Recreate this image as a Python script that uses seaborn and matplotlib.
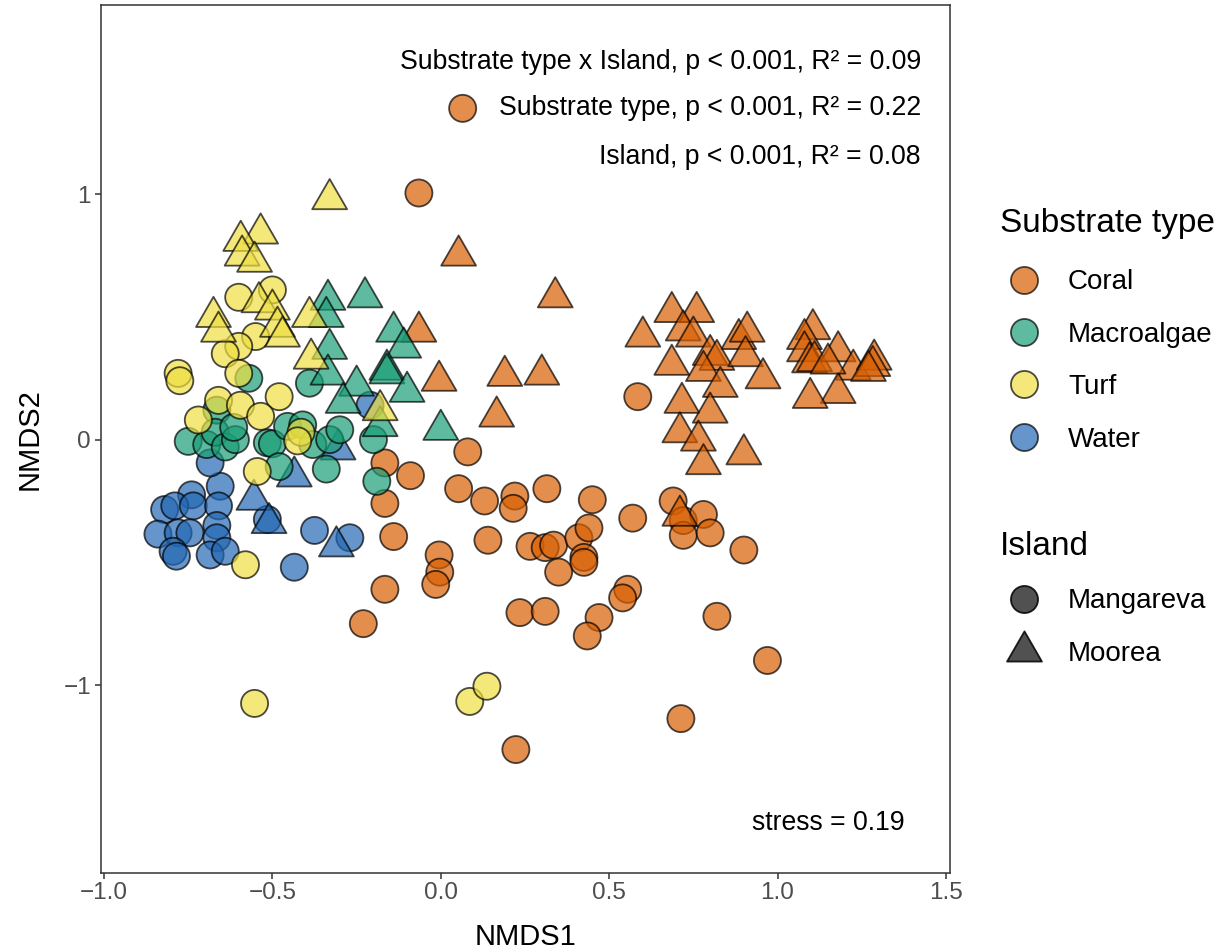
import numpy as np
import pandas as pd
import matplotlib
matplotlib.use("Agg")
import matplotlib.pyplot as plt
from matplotlib.path import Path
from matplotlib.lines import Line2D
import seaborn as sns

# ---- NMDS ordination scores, by substrate type and island ----
coral_mangareva_x = [-0.065, 0.065, 0.585, 0.08, -0.166, -0.09, -0.166, 0.053, 0.13, 0.22,
                     0.215, 0.315, 0.45, 0.57, 0.69, 0.72, 0.72, 0.78, 0.80, 0.90,
                     -0.14, -0.005, -0.003, -0.015, 0.14, 0.265, 0.31, 0.335, 0.41, 0.44,
                     0.425, 0.425, 0.35, -0.166, 0.235, 0.31, 0.47, 0.555, 0.54, 0.435,
                     0.82, 0.97, -0.23, 0.223, 0.713]
coral_mangareva_y = [1.005, 1.35, 0.175, -0.05, -0.095, -0.147, -0.26, -0.20, -0.25, -0.23,
                     -0.28, -0.20, -0.245, -0.32, -0.25, -0.33, -0.39, -0.305, -0.38, -0.45,
                     -0.395, -0.47, -0.54, -0.59, -0.41, -0.435, -0.44, -0.43, -0.40, -0.36,
                     -0.48, -0.50, -0.54, -0.61, -0.705, -0.70, -0.725, -0.61, -0.645, -0.80,
                     -0.72, -0.90, -0.75, -1.263, -1.137]

coral_moorea_x = [0.053, 0.34, -0.065, -0.005, 0.19, 0.30, 0.166, 0.686, 0.76, 0.60,
                  0.72, 0.75, 0.885, 0.91, 0.80, 0.82, 0.905, 0.686, 0.78, 0.957,
                  0.83, 0.716, 0.80, 0.71, 0.765, 0.78, 0.90, 1.105, 1.08, 1.08,
                  1.095, 1.11, 1.18, 1.225, 1.287, 1.283, 1.18, 1.097, 1.15, 1.27, 0.71]
coral_moorea_y = [0.75, 0.58, 0.44, 0.24, 0.26, 0.265, 0.094, 0.52, 0.52, 0.42,
                  0.445, 0.42, 0.41, 0.44, 0.345, 0.325, 0.34, 0.305, 0.28, 0.25,
                  0.215, 0.15, 0.11, 0.03, -0.004, -0.10, -0.06, 0.45, 0.41, 0.36,
                  0.315, 0.32, 0.36, 0.285, 0.326, 0.30, 0.19, 0.17, 0.31, 0.28, -0.31]

macro_mangareva_x = [-0.57, -0.39, -0.665, -0.75, -0.695, -0.67, -0.64, -0.61, -0.615, -0.515,
                     -0.50, -0.455, -0.41, -0.38, -0.33, -0.30, -0.48, -0.34, -0.20, -0.19]
macro_mangareva_y = [0.25, 0.23, 0.12, -0.007, -0.02, 0.03, -0.03, 0.0, 0.05, -0.013,
                     -0.017, 0.054, 0.06, -0.02, 0.0, 0.04, -0.11, -0.12, 0.0, -0.17]

macro_moorea_x = [-0.335, -0.34, -0.225, -0.14, -0.11, -0.33, -0.335, -0.16, -0.16, -0.25,
                  -0.10, -0.29, -0.18, 0.0]
macro_moorea_y = [0.57, 0.50, 0.58, 0.44, 0.375, 0.37, 0.265, 0.285, 0.27, 0.22,
                  0.195, 0.15, 0.055, 0.04]

turf_mangareva_x = [-0.60, -0.50, -0.55, -0.60, -0.64, -0.60, -0.78, -0.775, -0.48, -0.66,
                    -0.595, -0.535, -0.72, -0.415, -0.425, -0.545, -0.58, -0.553, 0.086, 0.137]
turf_mangareva_y = [0.58, 0.61, 0.42, 0.38, 0.35, 0.27, 0.27, 0.24, 0.175, 0.16,
                    0.14, 0.095, 0.08, 0.03, -0.005, -0.13, -0.51, -1.075, -1.067, -1.005]

turf_moorea_x = [-0.33, -0.535, -0.594, -0.59, -0.553, -0.675, -0.66, -0.54, -0.50, -0.485,
                 -0.47, -0.39, -0.385, -0.18]
turf_moorea_y = [0.98, 0.84, 0.81, 0.75, 0.725, 0.50, 0.44, 0.56, 0.53, 0.46,
                 0.42, 0.50, 0.33, 0.12]

water_mangareva_x = [-0.21, -0.655, -0.74, -0.82, -0.79, -0.735, -0.66, -0.84, -0.78, -0.745,
                     -0.665, -0.665, -0.795, -0.785, -0.685, -0.64, -0.685, -0.515, -0.375, -0.27,
                     -0.435]
water_mangareva_y = [0.14, -0.19, -0.225, -0.285, -0.27, -0.27, -0.27, -0.385, -0.38, -0.38,
                     -0.35, -0.40, -0.455, -0.475, -0.47, -0.455, -0.095, -0.325, -0.37, -0.40,
                     -0.52]

water_moorea_x = [-0.305, -0.435, -0.555, -0.51, -0.31]
water_moorea_y = [-0.04, -0.15, -0.245, -0.34, -0.435]

substrates = ["Coral", "Macroalgae", "Turf", "Water"]
islands = ["Mangareva", "Moorea"]
substrate_colors = ["#D95F02", "#1B9E77", "#EEDF41", "#2468B4"]

stat_lines = ["Substrate type x Island, p < 0.001, R² = 0.09",
              "Substrate type, p < 0.001, R² = 0.22",
              "Island, p < 0.001, R² = 0.08"]
stress_label = "stress = 0.19"

x_ticks = [-1.0, -0.5, 0.0, 0.5, 1.0, 1.5]
x_tick_labels = ["−1.0", "−0.5", "0.0", "0.5", "1.0", "1.5"]
y_ticks = [-1, 0, 1]
y_tick_labels = ["−1", "0", "1"]

# ---- assemble long-format table (drawing order: water, coral, macroalgae, turf) ----
groups = [
    ("Water", "Mangareva", water_mangareva_x, water_mangareva_y),
    ("Water", "Moorea", water_moorea_x, water_moorea_y),
    ("Coral", "Mangareva", coral_mangareva_x, coral_mangareva_y),
    ("Coral", "Moorea", coral_moorea_x, coral_moorea_y),
    ("Macroalgae", "Mangareva", macro_mangareva_x, macro_mangareva_y),
    ("Macroalgae", "Moorea", macro_moorea_x, macro_moorea_y),
    ("Turf", "Mangareva", turf_mangareva_x, turf_mangareva_y),
    ("Turf", "Moorea", turf_moorea_x, turf_moorea_y),
]
frames = []
for sub, isl, xs, ys in groups:
    frames.append(pd.DataFrame({"NMDS1": xs, "NMDS2": ys,
                                "Substrate type": sub, "Island": isl}))
df = pd.concat(frames, ignore_index=True)

# ---- style ----
sns.set_style("ticks")
plt.rcParams["font.family"] = ["Liberation Sans", "DejaVu Sans"]
plt.rcParams["text.color"] = "black"
plt.rcParams["axes.labelcolor"] = "black"

# equilateral up-pointing triangle, centred on its centroid
tri = Path([(0, 1), (0.866, -0.5), (-0.866, -0.5), (0, 1)],
           [Path.MOVETO, Path.LINETO, Path.LINETO, Path.CLOSEPOLY])
circle_s = 380
tri_s = 840

fig = plt.figure(figsize=(12.21, 9.51), dpi=100)
ax = fig.add_axes([0.0825, 0.0823, 0.778 - 0.0825, 0.9947 - 0.0823])

sns.scatterplot(data=df, x="NMDS1", y="NMDS2",
                hue="Substrate type", hue_order=substrates,
                palette=dict(zip(substrates, substrate_colors)),
                style="Island", style_order=islands,
                markers={"Mangareva": "o", "Moorea": tri},
                size="Island", size_order=islands,
                sizes={"Mangareva": circle_s, "Moorea": tri_s},
                alpha=0.7, edgecolor="black", linewidth=1.3,
                legend=False, ax=ax)

ax.set_xlim(-1.0098, 1.512)
ax.set_ylim(-1.765, 1.771)
ax.set_xticks(x_ticks)
ax.set_xticklabels(x_tick_labels)
ax.set_yticks(y_ticks)
ax.set_yticklabels(y_tick_labels)
ax.tick_params(axis="both", labelsize=17.5, labelcolor="#4D4D4D", color="#333333",
               length=4, width=1.1, direction="out", pad=3)
ax.set_xlabel("NMDS1", fontsize=21, labelpad=13)
ax.set_ylabel("NMDS2", fontsize=21, labelpad=14)
for sp in ax.spines.values():
    sp.set_visible(True)
    sp.set_color("#333333")
    sp.set_linewidth(1.1)

# PERMANOVA results and stress
for txt, yf in zip(stat_lines, [0.9343, 0.881, 0.8248]):
    ax.text(0.9658, yf, txt, transform=ax.transAxes, ha="right", va="center",
            fontsize=19.2, color="black")
ax.text(0.947, 0.0573, stress_label, transform=ax.transAxes, ha="right", va="center",
        fontsize=19.2, color="black")

# ---- legends ----
sub_handles = [Line2D([], [], marker="o", linestyle="", markersize=np.sqrt(circle_s),
                      markerfacecolor=c, markeredgecolor="black", markeredgewidth=1.3,
                      alpha=0.7)
               for c in substrate_colors]
leg1 = fig.legend(sub_handles, substrates, title="Substrate type",
                  loc="upper left", bbox_to_anchor=(1000 / 1221, 1 - 212 / 951),
                  frameon=False, fontsize=20, title_fontsize=24,
                  borderpad=0, borderaxespad=0, handlelength=1.75,
                  handletextpad=0.7, labelspacing=0.95, alignment="left",
                  labelcolor="black")
leg1.get_title().set_position((0, 4))
leg1.get_title().set_color("black")

isl_handles = [Line2D([], [], marker="o", linestyle="", markersize=np.sqrt(circle_s),
                      markerfacecolor="#333333", markeredgecolor="black",
                      markeredgewidth=1.3, alpha=0.85),
               Line2D([], [], marker=tri, linestyle="", markersize=np.sqrt(tri_s),
                      markerfacecolor="#333333", markeredgecolor="black",
                      markeredgewidth=1.3, alpha=0.85)]
leg2 = fig.legend(isl_handles, islands, title="Island",
                  loc="upper left", bbox_to_anchor=(1000 / 1221, 1 - 531 / 951),
                  frameon=False, fontsize=20, title_fontsize=24,
                  borderpad=0, borderaxespad=0, handlelength=1.75,
                  handletextpad=0.7, labelspacing=0.95, alignment="left",
                  labelcolor="black")
leg2.get_title().set_color("black")

fig.savefig("out.png", dpi=100, facecolor="white")
